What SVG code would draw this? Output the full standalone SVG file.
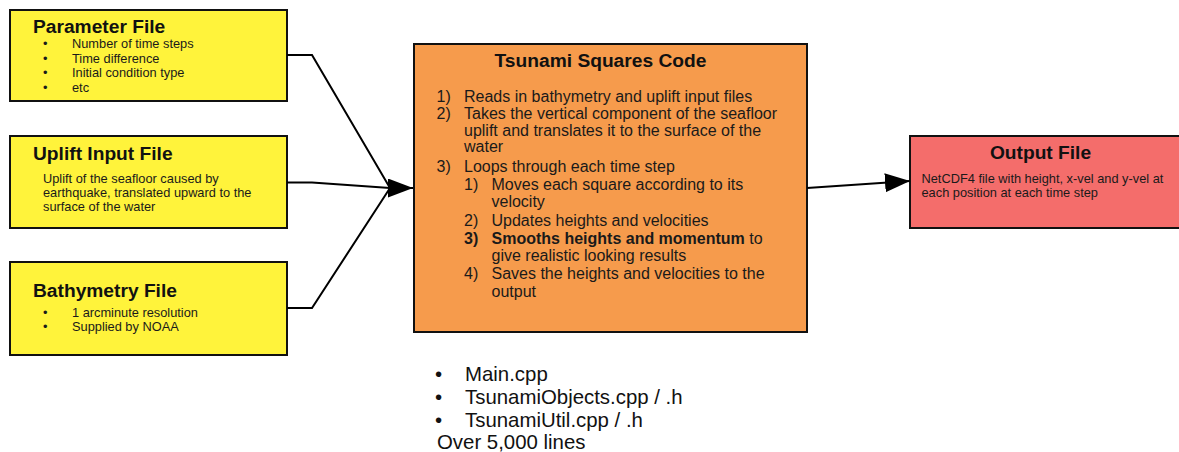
<svg xmlns="http://www.w3.org/2000/svg" width="1179" height="452" viewBox="0 0 1179 452">
  <style>
    .box { stroke: #111; stroke-width: 2; }
    .yellow { fill: #FFF33B; }
    .orange { fill: #F69B4C; }
    .red { fill: #F46D6B; }
    .title { font-family: "Liberation Sans", Arial, sans-serif; font-weight: bold; font-size: 19.2px; fill: #111; }
    .small { font-family: "Liberation Sans", Arial, sans-serif; font-size: 12.8px; fill: #1a1a1a; }
    .body { font-family: "Liberation Sans", Arial, sans-serif; font-size: 16px; fill: #1a1a1a; }
    .big { font-family: "Liberation Sans", Arial, sans-serif; font-size: 20.4px; fill: #111; }
    .wire { fill: none; stroke: #000; stroke-width: 2; }
    .b { font-weight: bold; }
  </style>
  <defs>
    <marker id="arrow" markerUnits="userSpaceOnUse" markerWidth="26" markerHeight="20" refX="25" refY="9.5" orient="auto">
      <path d="M0,0 L25,9.5 L0,19 Z" fill="#000"/>
    </marker>
  </defs>

  <rect width="1179" height="452" fill="#fff"/>

  <!-- Parameter File -->
  <g id="parameter-file">
    <rect class="box yellow" x="10" y="10" width="277" height="91"/>
    <text class="title" x="33" y="33">Parameter File</text>
    <g class="small">
      <text x="43" y="48">•</text><text x="72" y="48">Number of time steps</text>
      <text x="43" y="62.5">•</text><text x="72" y="62.5">Time difference</text>
      <text x="43" y="77">•</text><text x="72" y="77">Initial condition type</text>
      <text x="43" y="91.5">•</text><text x="72" y="91.5">etc</text>
    </g>
  </g>

  <!-- Uplift Input File -->
  <g id="uplift-input-file">
    <rect class="box yellow" x="10" y="136" width="277" height="92"/>
    <text class="title" x="33" y="160">Uplift Input File</text>
    <g class="small">
      <text x="43" y="183">Uplift of the seafloor caused by</text>
      <text x="43" y="197">earthquake, translated upward to the</text>
      <text x="43" y="211">surface of the water</text>
    </g>
  </g>

  <!-- Bathymetry File -->
  <g id="bathymetry-file">
    <rect class="box yellow" x="10" y="262" width="277" height="93"/>
    <text class="title" x="33" y="297">Bathymetry File</text>
    <g class="small">
      <text x="43" y="317">•</text><text x="72" y="317">1 arcminute resolution</text>
      <text x="43" y="331">•</text><text x="72" y="331">Supplied by NOAA</text>
    </g>
  </g>

  <!-- Tsunami Squares Code -->
  <g id="tsunami-squares-code">
    <rect class="box orange" x="414" y="44" width="393" height="288"/>
    <text class="title" x="600.5" y="67" text-anchor="middle">Tsunami Squares Code</text>
    <g class="body">
      <text x="436.5" y="102">1)</text><text x="464" y="102">Reads in bathymetry and uplift input files</text>
      <text x="436.5" y="118.5">2)</text><text x="464" y="118.5">Takes the vertical component of the seafloor</text>
      <text x="464" y="135.5">uplift and translates it to the surface of the</text>
      <text x="464" y="152">water</text>
      <text x="436.5" y="172">3)</text><text x="464" y="172">Loops through each time step</text>
      <text x="464" y="190">1)</text><text x="491.5" y="190">Moves each square according to its</text>
      <text x="491.5" y="207">velocity</text>
      <text x="464" y="226">2)</text><text x="491.5" y="226">Updates heights and velocities</text>
      <text x="464" y="243.5" class="b">3)</text><text x="491.5" y="243.5"><tspan class="b">Smooths heights and momentum</tspan> to</text>
      <text x="491.5" y="261">give realistic looking results</text>
      <text x="464" y="279">4)</text><text x="491.5" y="279">Saves the heights and velocities to the</text>
      <text x="491.5" y="297">output</text>
    </g>
  </g>

  <!-- Output File -->
  <g id="output-file">
    <rect class="box red" x="910" y="136" width="270" height="92"/>
    <text class="title" x="1040.5" y="158.5" text-anchor="middle">Output File</text>
    <g class="small">
      <text x="921.5" y="183">NetCDF4 file with height, x-vel and y-vel at</text>
      <text x="921.5" y="196.5">each position at each time step</text>
    </g>
  </g>

  <!-- Source file list -->
  <g id="source-files" class="big">
    <text x="435" y="381">•</text><text x="465" y="381">Main.cpp</text>
    <text x="435" y="403.5">•</text><text x="465" y="403.5">TsunamiObjects.cpp / .h</text>
    <text x="435" y="426.5">•</text><text x="465" y="426.5">TsunamiUtil.cpp / .h</text>
    <text x="437" y="448.5">Over 5,000 lines</text>
  </g>

  <!-- Connectors -->
  <g id="connectors">
    <polyline class="wire" points="287,55 312,55 390,188"/>
    <polyline class="wire" points="287,182.5 312,182.5 390,188"/>
    <polyline class="wire" points="287,308 312,308 390,188"/>
    <path class="wire" d="M388,188 L413,188" marker-end="url(#arrow)"/>
    <path class="wire" d="M807,188 L910,181" marker-end="url(#arrow)"/>
  </g>
</svg>
